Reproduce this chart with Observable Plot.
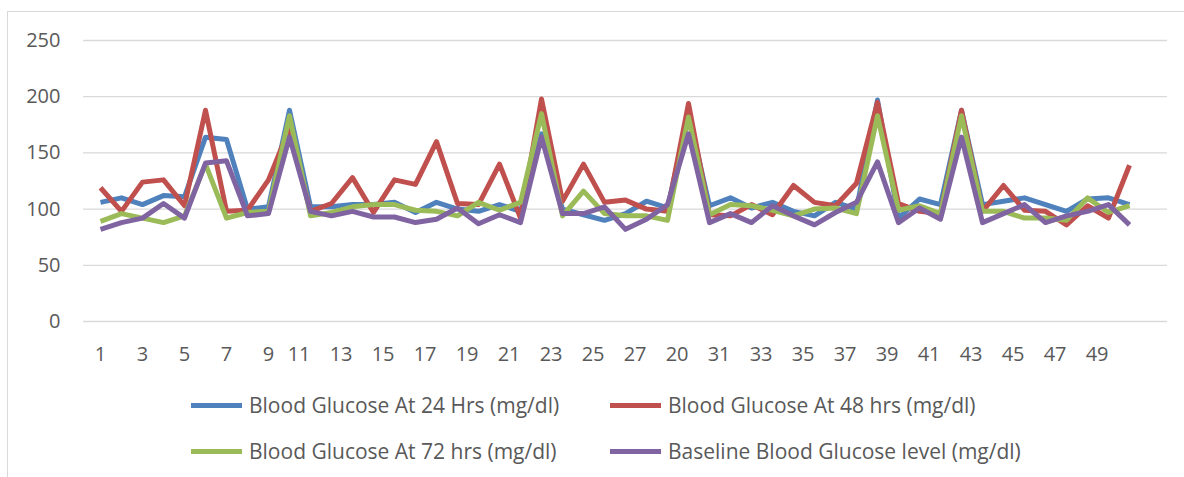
<!DOCTYPE html>
<html>
<head>
<meta charset="utf-8">
<script src="https://cdn.jsdelivr.net/npm/d3@7"></script>
<script src="https://cdn.jsdelivr.net/npm/@observablehq/plot@0.6"></script>
<style>
  html, body { margin: 0; padding: 0; background: #fff; }
  body { width: 1184px; height: 477px; position: relative; overflow: hidden; font-family: "Open Sans", sans-serif; }
  #frame { position: absolute; left: 7px; top: 11px; width: 1200px; height: 500px; border-left: 1.5px solid #d9d9d9; border-top: 1.5px solid #d9d9d9; box-sizing: border-box; }
  #chart { position: absolute; left: 0; top: 0; }
  .leg { position: absolute; display: flex; align-items: center; font-size: 21px; color: #595959; white-space: nowrap; }
  .sw { width: 51px; height: 5px; margin-right: 7px; }
</style>
</head>
<body>
<div id="frame"></div>
<div id="chart"></div>
<div id="legend"></div>
<script>
// Category labels (51 slots; the 29th is printed as "20" in the source, last slot empty)
const xLabels = ["1","2","3","4","5","6","7","8","9","10","11","12","13","14","15","16","17","18","19","20",
  "21","22","23","24","25","26","27","28","20","30","31","32","33","34","35","36","37","38","39","40",
  "41","42","43","44","45","46","47","48","49","50",""];
const yTicks = [0, 50, 100, 150, 200, 250];

const seriesNames = [
  "Blood Glucose At 24 Hrs (mg/dl)",
  "Blood Glucose At 48 hrs (mg/dl)",
  "Blood Glucose At 72 hrs (mg/dl)",
  "Baseline Blood Glucose level (mg/dl)"
];
const seriesColors = ["#4F81BD", "#C0504D", "#9BBB59", "#8064A2"];

const glucose24 = [106,110,104,112,111,164,162,100,102,188,102,102,104,104,106,97,106,100,98,104,
  98,167,100,95,90,96,107,101,185,103,110,101,106,98,94,106,100,197,92,109,
  104,188,104,107,110,104,98,109,110,104];
const glucose48 = [119,98,124,126,103,188,98,99,126,172,98,105,128,97,126,122,160,105,104,140,
  92,198,107,140,106,108,100,98,194,95,94,104,95,121,106,103,123,195,105,98,
  96,188,98,121,99,98,86,103,92,139];
const glucose72 = [89,96,92,88,94,140,92,97,98,183,94,97,102,104,104,99,98,94,106,99,
  106,185,94,116,96,94,94,90,182,95,104,103,99,94,100,101,96,183,99,103,
  96,183,98,98,92,92,90,110,97,103];
const baseline = [82,88,92,105,92,141,143,94,96,164,98,94,98,93,93,88,91,101,87,95,
  88,164,96,96,102,82,91,104,167,88,96,88,103,94,86,97,106,142,88,101,
  91,164,88,96,104,88,94,98,104,86];

const seriesValues = [glucose24, glucose48, glucose72, baseline];
const positions = xLabels.map((_, i) => i + 1);
const labelTicks = positions.filter(p => p % 2 === 1 && xLabels[p - 1] !== "");
const oneDigit = labelTicks.filter(p => xLabels[p - 1].length === 1);
const twoDigit = labelTicks.filter(p => xLabels[p - 1].length > 1);

const lineMarks = seriesValues.map((vals, s) =>
  Plot.line(vals.map((v, i) => ({pos: i + 1, value: v})), {
    x: "pos", y: "value", stroke: seriesColors[s], strokeWidth: 5,
    strokeLinejoin: "round", strokeLinecap: "butt"
  })
);

const chart = Plot.plot({
  width: 1184,
  height: 390,
  marginTop: 40,
  marginBottom: 69,
  marginLeft: 83,
  marginRight: 17,
  style: {fontFamily: "'Open Sans', sans-serif", fontSize: "20px", color: "#595959", background: "transparent", overflow: "visible"},
  x: {type: "point", domain: positions, padding: 0.5, label: null},
  y: {domain: [0, 250], label: null},
  marks: [
    Plot.gridY(yTicks, {stroke: "#d9d9d9", strokeOpacity: 1, strokeWidth: 1.3}),
    Plot.axisY(yTicks, {tickSize: 0, tickPadding: 23, fill: "#595959", fontSize: 20, label: null}),
    Plot.axisX(oneDigit, {tickSize: 0, tickPadding: 25, fill: "#595959", fontSize: 20, label: null, tickFormat: p => xLabels[p - 1]}),
    Plot.axisX(twoDigit, {tickSize: 0, tickPadding: 25, fill: "#595959", fontSize: 20, label: null, textAnchor: "end", dx: 0, tickFormat: p => xLabels[p - 1]}),
    ...lineMarks
  ]
});
document.getElementById("chart").appendChild(chart);

// Legend (2 x 2)
const legendPos = [
  {left: 191, top: 405}, {left: 610, top: 405},
  {left: 191, top: 451}, {left: 610, top: 451}
];
const legend = document.getElementById("legend");
seriesNames.forEach((name, i) => {
  const item = document.createElement("div");
  item.className = "leg";
  item.style.left = legendPos[i].left + "px";
  item.style.top = (legendPos[i].top - 15) + "px";
  item.style.height = "30px";
  const sw = document.createElement("span");
  sw.className = "sw";
  sw.style.background = seriesColors[i];
  const tx = document.createElement("span");
  tx.textContent = name;
  item.appendChild(sw);
  item.appendChild(tx);
  legend.appendChild(item);
});
</script>
</body>
</html>
